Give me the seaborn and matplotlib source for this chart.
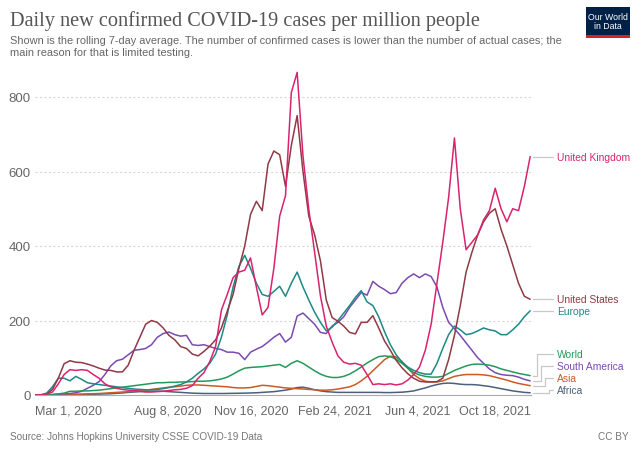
import matplotlib
matplotlib.use("Agg")
import matplotlib.pyplot as plt
import matplotlib.transforms as mtransforms
from matplotlib.patches import Rectangle
import seaborn as sns
import pandas as pd

# ---------------- data (weekly readings, cases per million, 7-day avg) -------------
start_date = "2020-03-01"
n_weeks = 86
dates = pd.date_range(start_date, periods=n_weeks, freq="7D")

united_kingdom = [0, 0.5, 2, 8, 30, 55, 68, 66, 68, 66, 55, 45, 30, 22, 18, 15, 13, 12, 10, 8,
                  8, 9, 10, 12, 14, 15, 18, 25, 45, 60, 90, 130, 228, 270, 315, 330, 335, 368, 290, 215,
                  235, 340, 480, 535, 812, 866, 642, 498, 383, 266, 185, 142, 105, 88, 83, 85, 80, 55, 28, 30,
                  28, 30, 27, 30, 40, 55, 75, 120, 190, 300, 410, 530, 690, 500, 390, 410, 430, 470, 495, 555,
                  500, 465, 500, 495, 560, 640]
united_states = [0, 0.3, 2, 15, 45, 84, 92, 88, 87, 83, 78, 72, 67, 66, 62, 62, 80, 120, 155, 190,
                 200, 195, 180, 160, 148, 130, 125, 110, 105, 117, 131, 148, 180, 225, 270, 340, 400, 485, 520, 495,
                 620, 655, 645, 560, 670, 750, 600, 480, 430, 360, 255, 208, 198, 185, 168, 164, 195, 195, 213, 180,
                 145, 120, 93, 73, 57, 45, 37, 35, 35, 36, 45, 95, 160, 240, 330, 383, 430, 465, 488, 500,
                 445, 400, 350, 300, 265, 257]
europe = [0, 0.5, 5, 22, 45, 45, 38, 50, 42, 33, 30, 28, 26, 24, 22, 20, 18, 16, 15, 14,
          14, 15, 17, 20, 24, 28, 35, 45, 58, 70, 85, 110, 155, 215, 290, 345, 375, 340, 300, 270,
          265, 278, 292, 265, 300, 330, 290, 255, 222, 195, 172, 182, 200, 220, 240, 262, 280, 250, 240, 210,
          170, 135, 108, 88, 75, 66, 60, 56, 56, 85, 125, 162, 185, 175, 162, 165, 172, 180, 175, 172,
          162, 162, 175, 190, 210, 226]
world = [0, 0.2, 0.5, 1.5, 3, 5, 10, 10, 11, 11, 12, 13, 15, 17, 19, 21, 23, 25, 27, 29,
         31, 33, 33, 34, 34, 35, 35, 36, 37, 37, 38, 40, 43, 48, 56, 65, 72, 74, 75, 76,
         78, 80, 82, 74, 85, 92, 85, 75, 65, 56, 50, 47, 47, 50, 56, 65, 75, 86, 95, 103,
         105, 103, 96, 85, 72, 60, 54, 50, 48, 48, 50, 58, 66, 72, 78, 82, 83, 82, 80, 76,
         70, 66, 62, 58, 55, 52]
south_america = [0, 0, 0.2, 1, 2, 3, 4, 6, 10, 18, 26, 36, 55, 78, 92, 96, 108, 120, 122, 125,
                 135, 155, 165, 169, 162, 158, 160, 135, 133, 135, 130, 125, 122, 115, 115, 112, 95, 115, 123, 130,
                 142, 155, 165, 142, 155, 212, 220, 205, 190, 168, 165, 185, 195, 210, 235, 255, 275, 268, 305, 292,
                 283, 272, 275, 300, 315, 325, 315, 325, 318, 290, 235, 195, 178, 160, 140, 120, 100, 85, 70, 60,
                 55, 53, 52, 48, 42, 38]
asia = [0, 0.2, 0.4, 0.6, 1, 1.5, 2, 2, 2.5, 3, 3.5, 4, 5, 6, 7, 8, 9, 10, 11, 13,
        15, 17, 19, 21, 22, 24, 26, 27, 27, 26, 25, 24, 23, 22, 20, 19, 19, 20, 23, 26,
        25, 23, 21, 19, 18, 17, 16, 15, 14, 13, 13, 14, 16, 19, 22, 28, 38, 50, 65, 80,
        95, 104, 102, 90, 72, 55, 44, 37, 35, 35, 38, 44, 50, 53, 55, 55, 55, 54, 52, 48,
        44, 40, 35, 31, 28, 25]
africa = [0, 0, 0, 0.1, 0.3, 0.5, 0.7, 1, 1.2, 1.5, 2, 2.5, 3, 3.5, 4.5, 5.5, 7, 8, 9, 10,
          10.5, 10.5, 10, 9, 8, 7, 6, 5, 4.5, 4, 4, 4, 4, 4.2, 4.5, 4.7, 5, 5.5, 6, 7,
          8, 9, 11, 13, 16, 20, 21, 18, 14, 11, 9, 8, 7, 7, 7, 7, 7, 7, 7, 7,
          6.5, 6.5, 7, 7.5, 9, 11, 15, 19, 24, 28, 31, 32, 31, 29, 28, 28, 27, 25, 23, 20,
          17, 14, 11, 9, 7, 6]

series_names = ["United Kingdom", "United States", "Europe", "World",
                "South America", "Asia", "Africa"]
series_values = [united_kingdom, united_states, europe, world, south_america, asia, africa]
colors = ["#d9236f", "#8f3a44", "#1c8a85", "#24995a", "#7b4bb0", "#cc5a25", "#4d5f80"]

x_tick_dates = ["2020-03-01", "2020-08-08", "2020-11-16", "2021-02-24", "2021-06-04", "2021-10-18"]
x_tick_labels = ["Mar 1, 2020", "Aug 8, 2020", "Nov 16, 2020", "Feb 24, 2021", "Jun 4, 2021", "Oct 18, 2021"]
y_ticks = [0, 200, 400, 600, 800]

# ---------------- build long table ----------------
frames = []
for name, vals in zip(series_names, series_values):
    frames.append(pd.DataFrame({"date": dates, "value": vals, "series": name}))
df = pd.concat(frames, ignore_index=True)

sns.set_style("white")
plt.rcParams["font.family"] = ["Liberation Sans", "DejaVu Sans"]

W, H = 640, 452
fig = plt.figure(figsize=(W / 100, H / 100), dpi=100)
ax_left, ax_right, ax_bottom, ax_top = 35, 531, 396, 68.2
ax = fig.add_axes([ax_left / W, (H - ax_bottom) / H, (ax_right - ax_left) / W, (ax_bottom - ax_top) / H])

palette = dict(zip(series_names, colors))
sns.lineplot(data=df, x="date", y="value", hue="series", palette=palette,
             hue_order=series_names[::-1], linewidth=1.1, legend=False, ax=ax)

ax.set_xlim(pd.Timestamp(x_tick_dates[0]), pd.Timestamp(x_tick_dates[-1]))
ax.set_ylim(0, 880)
ax.set_xlabel("")
ax.set_ylabel("")

# y axis
ax.set_yticks(y_ticks)
ax.set_yticklabels([str(v) for v in y_ticks])
ax.tick_params(axis="y", length=0, pad=3, labelsize=9.5, labelcolor="#666666")
for v in y_ticks[1:]:
    ax.axhline(v, color="#d8d8d8", lw=0.8, ls=(0, (2, 2)), zorder=0)

# x axis
ax.set_xticks([pd.Timestamp(d) for d in x_tick_dates])
ax.set_xticklabels(x_tick_labels)
ax.tick_params(axis="x", length=4, width=0.8, color="#aaaaaa", pad=3, labelsize=9, labelcolor="#666666")
xt = ax.get_xticklabels()
xt[0].set_ha("left")
xt[-1].set_ha("right")

for s in ["top", "right", "left"]:
    ax.spines[s].set_visible(False)
ax.spines["bottom"].set_color("#aaaaaa")
ax.spines["bottom"].set_linewidth(0.8)

# ---------------- end labels with leader lines ----------------
def px_to_ax(p):
    return (p - ax_left) / (ax_right - ax_left)

trans = mtransforms.blended_transform_factory(ax.transAxes, ax.transData)
label_values = [None, None, None, 111, 79, 46, 14]
elbow_px = [543, 543, 543, 537, 541, 545, 549]
for name, vals, col, ly, ex in zip(series_names, series_values, colors, label_values, elbow_px):
    end = vals[-1]
    if ly is None:
        ly = end
    xs = [px_to_ax(533), px_to_ax(ex), px_to_ax(ex), px_to_ax(553)]
    ys = [end, end, ly, ly]
    ax.plot(xs, ys, color="#c8c8c8", lw=0.9, transform=trans, clip_on=False)
    ax.text(px_to_ax(557), ly, name, color=col, fontsize=7.4, va="center", ha="left",
            transform=trans, clip_on=False)

# ---------------- titles / footer ----------------
fig.text(10 / W, 1 - 26 / H, "Daily new confirmed COVID-19 cases per million people",
         fontsize=14.6, color="#555555", family=["Liberation Serif", "DejaVu Serif"], va="baseline")
fig.text(10 / W, 1 - 44 / H,
         "Shown is the rolling 7-day average. The number of confirmed cases is lower than the number of actual cases; the",
         fontsize=7.9, color="#666666", va="baseline")
fig.text(10 / W, 1 - 56 / H, "main reason for that is limited testing.",
         fontsize=7.9, color="#666666", va="baseline")
fig.text(10 / W, 1 - 440 / H, "Source: Johns Hopkins University CSSE COVID-19 Data",
         fontsize=7.2, color="#777777", va="baseline")
fig.text(629 / W, 1 - 440 / H, "CC BY", fontsize=7.2, color="#777777", va="baseline", ha="right")

# logo
fig.patches.append(Rectangle((586 / W, 1 - 36 / H), 44 / W, 28 / H, transform=fig.transFigure,
                             facecolor="#002147", edgecolor="none"))
fig.patches.append(Rectangle((586 / W, 1 - 39 / H), 44 / W, 3 / H, transform=fig.transFigure,
                             facecolor="#ce261e", edgecolor="none"))
fig.text(608 / W, 1 - 22 / H, "Our World\nin Data", color="white", fontsize=6.3,
         ha="center", va="center", linespacing=1.0)

fig.savefig("out.png", dpi=100)
